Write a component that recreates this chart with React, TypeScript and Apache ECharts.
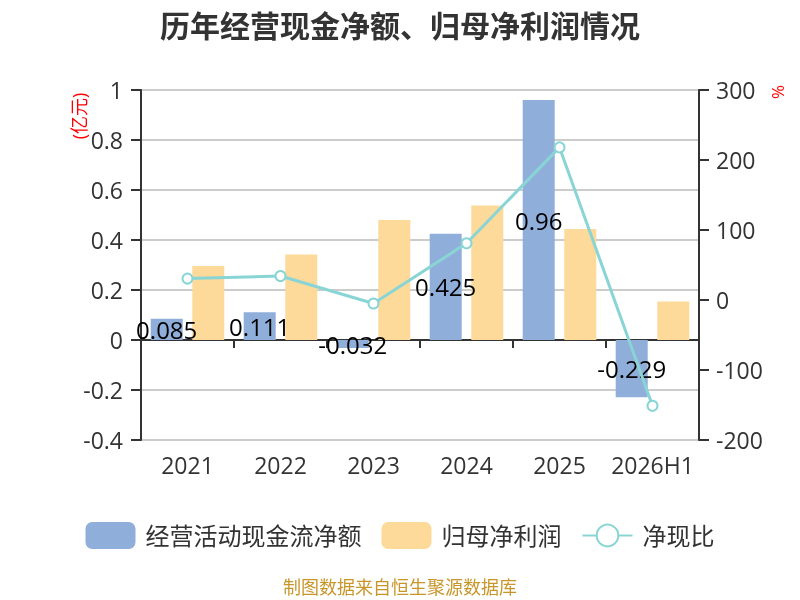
import React, { useEffect, useRef } from "react";
import * as echarts from "echarts";

const categories = ["2021", "2022", "2023", "2024", "2025", "2026H1"];
const cashFlow = [0.085, 0.111, -0.032, 0.425, 0.96, -0.229];
const netProfit = [0.296, 0.342, 0.48, 0.538, 0.444, 0.154];
const ratio = [30.6, 34.3, -5, 81, 218, -151];

const FONT = "'Open Sans', 'Noto Sans CJK SC', sans-serif";

export default function App() {
  const ref = useRef<HTMLDivElement>(null);
  useEffect(() => {
    if (!ref.current) return;
    const chart = echarts.init(ref.current, undefined, { renderer: "svg" });
    chart.setOption({
      animation: false,
      textStyle: { fontFamily: FONT },
      title: {
        text: "历年经营现金净额、归母净利润情况",
        left: "center",
        top: 5,
        textStyle: { fontSize: 30, fontWeight: "bold", color: "#333", fontFamily: FONT },
      },
      grid: { left: 141, right: 101, top: 90, bottom: 160, containLabel: false },
      legend: {
        bottom: 46,
        left: "center",
        itemWidth: 50,
        itemHeight: 27,
        itemGap: 20,
        textStyle: { fontSize: 24, color: "#333", padding: [0, 0, 0, 5], fontFamily: FONT },
        data: [
          { name: "经营活动现金流净额", icon: "roundRect" },
          { name: "归母净利润", icon: "roundRect" },
          { name: "净现比" },
        ],
      },
      graphic: [
        {
          type: "text",
          x: 79,
          y: 116,
          rotation: Math.PI / 2,
          style: {
            text: "(亿元)",
            fill: "#ff0000",
            fontSize: 18,
            fontFamily: FONT,
            align: "center",
            verticalAlign: "middle",
          },
        },
        {
          type: "text",
          x: 777,
          y: 92,
          rotation: Math.PI / 2,
          style: {
            text: "%",
            fill: "#ff0000",
            fontSize: 17,
            fontFamily: FONT,
            align: "center",
            verticalAlign: "middle",
          },
        },
        {
          type: "text",
          x: 400,
          y: 587,
          style: {
            text: "制图数据来自恒生聚源数据库",
            fill: "#C8962A",
            fontSize: 18,
            fontFamily: FONT,
            align: "center",
            verticalAlign: "middle",
          },
        },
      ],
      xAxis: {
        type: "category",
        data: categories,
        axisLine: { onZero: true, lineStyle: { color: "#333", width: 2 } },
        axisTick: { show: true, interval: 0, length: 8, lineStyle: { color: "#333", width: 2 } },
        axisLabel: { interval: 0, margin: 13, fontSize: 23, color: "#333", fontFamily: FONT },
      },
      yAxis: [
        {
          type: "value",
          min: -0.4,
          max: 1,
          interval: 0.2,
          axisLine: { show: true, lineStyle: { color: "#333", width: 2 } },
          axisTick: { show: true, length: 10, lineStyle: { color: "#333", width: 2 } },
          axisLabel: { margin: 18, fontSize: 23, color: "#333", fontFamily: FONT },
          splitLine: { lineStyle: { color: "#ccc", width: 2 } },
        },
        {
          type: "value",
          min: -200,
          max: 300,
          interval: 100,
          axisLine: { show: true, lineStyle: { color: "#333", width: 2 } },
          axisTick: { show: true, length: 10, lineStyle: { color: "#333", width: 2 } },
          axisLabel: { margin: 17, fontSize: 23, color: "#333", fontFamily: FONT },
          splitLine: { show: false },
        },
      ],
      series: [
        {
          name: "经营活动现金流净额",
          type: "bar",
          data: cashFlow,
          barWidth: 32,
          barGap: "30%",
          itemStyle: { color: "#8FAEDA" },
          label: {
            show: true,
            position: "inside",
            color: "#000",
            fontSize: 24,
            fontFamily: FONT,
          },
        },
        {
          name: "归母净利润",
          type: "bar",
          data: netProfit,
          barWidth: 32,
          barGap: "30%",
          itemStyle: { color: "#FDD99A" },
        },
        {
          name: "净现比",
          type: "line",
          yAxisIndex: 1,
          data: ratio,
          symbol: "emptyCircle",
          symbolSize: 10,
          lineStyle: { color: "#89D5D6", width: 3 },
          itemStyle: { color: "#89D5D6", borderWidth: 2 },
          z: 5,
        },
      ],
    });
    return () => chart.dispose();
  }, []);
  return (
    <div
      ref={ref}
      style={{ position: "fixed", left: 0, top: 0, width: 800, height: 600 }}
    />
  );
}
